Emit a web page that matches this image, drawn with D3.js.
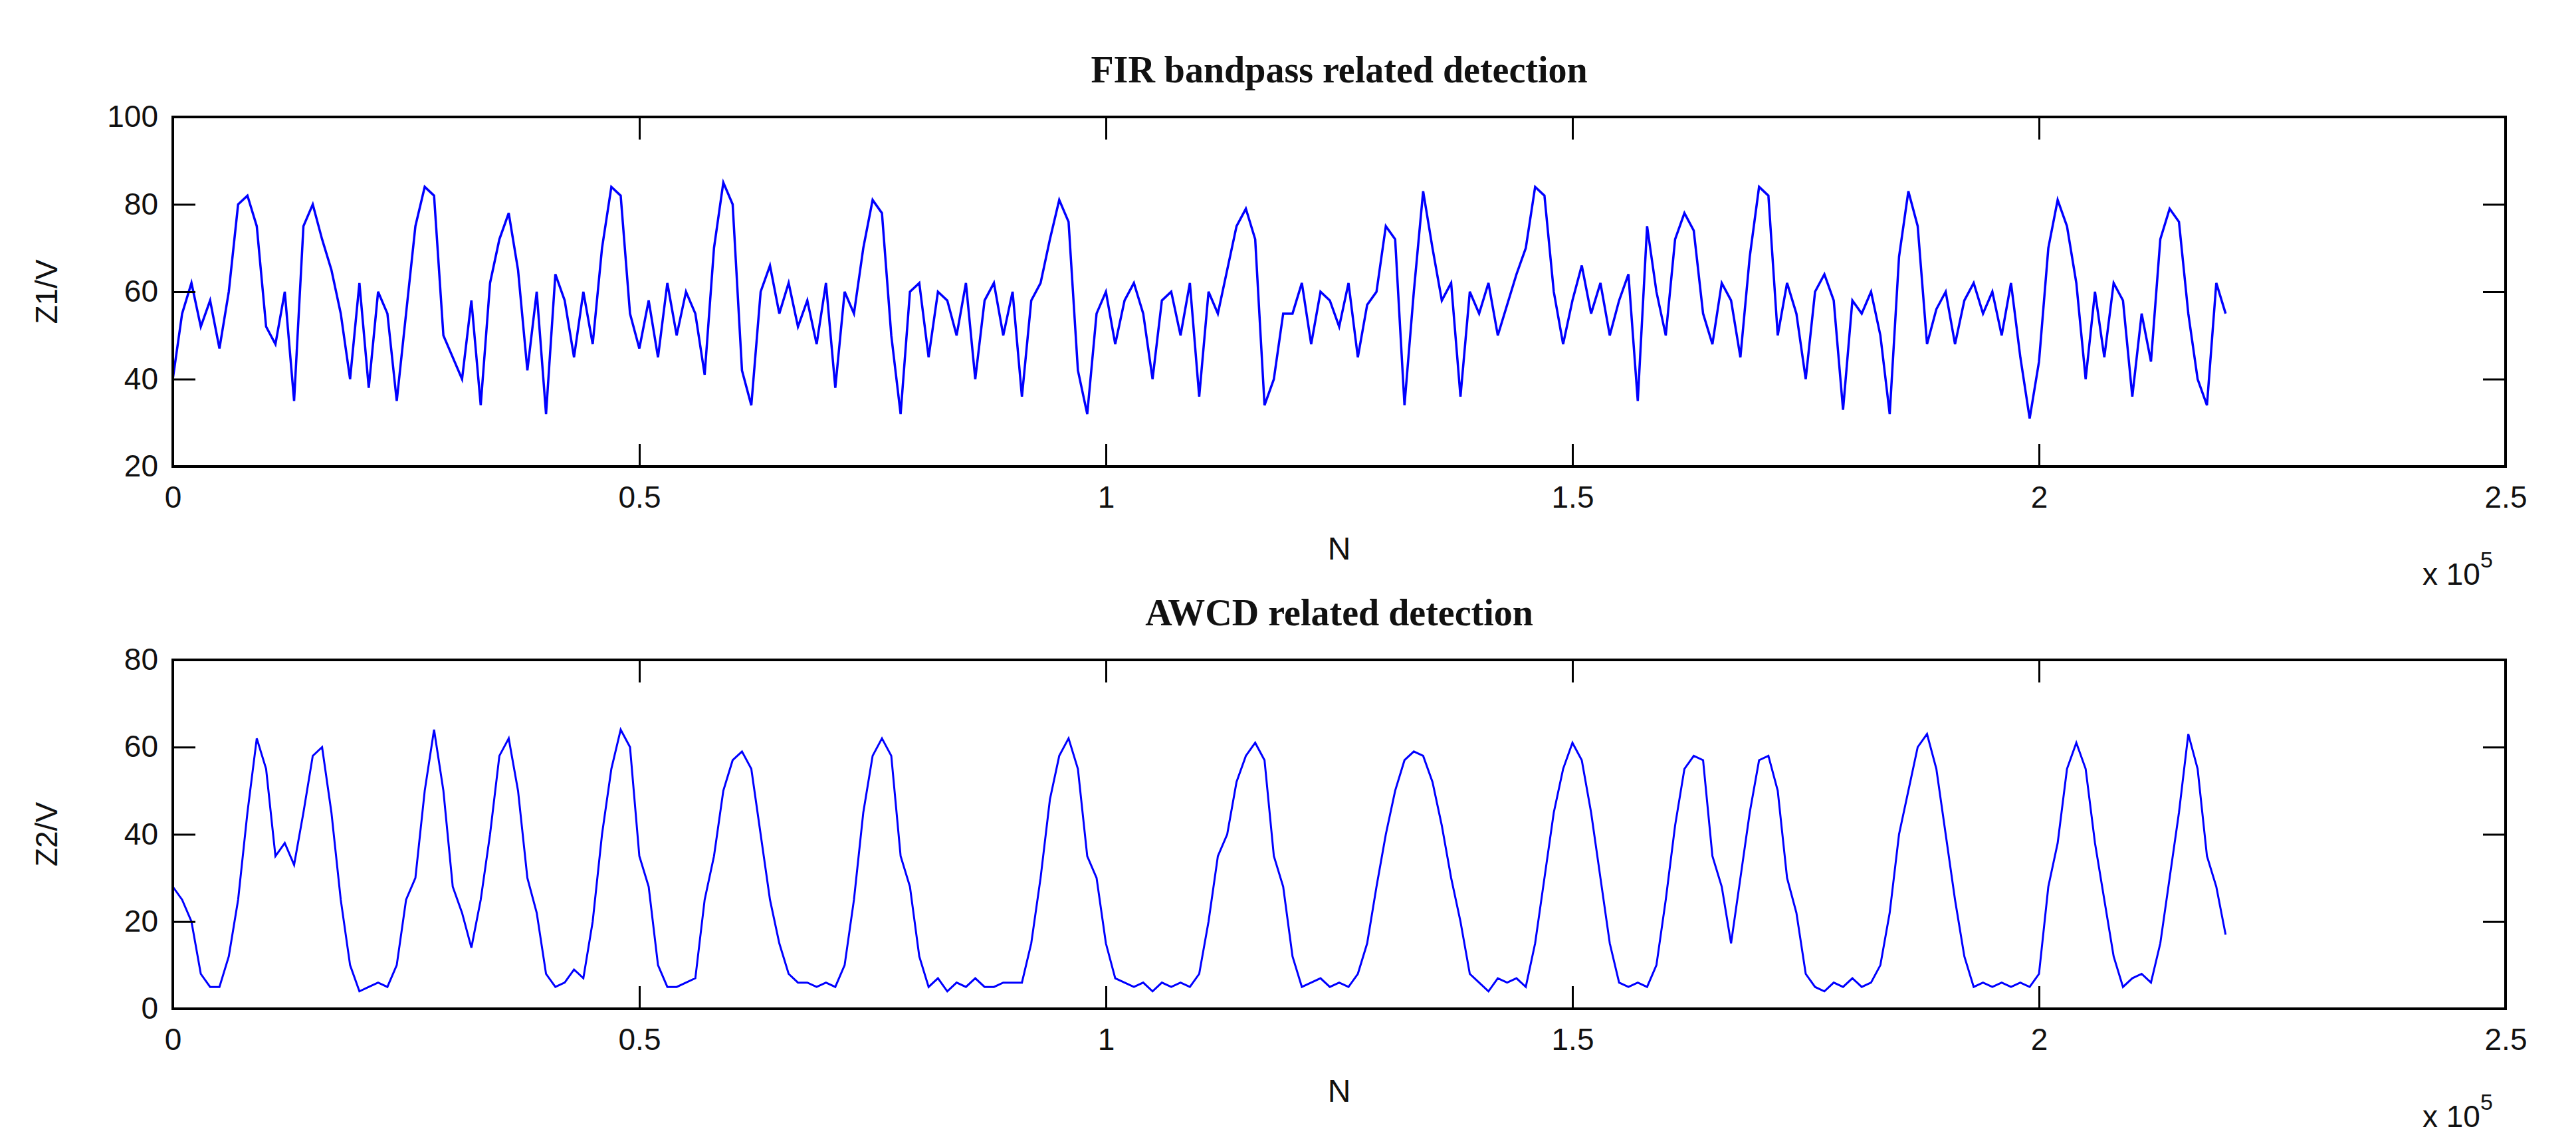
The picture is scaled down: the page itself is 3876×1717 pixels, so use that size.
<!DOCTYPE html>
<html>
<head>
<meta charset="utf-8">
<script src="https://cdn.jsdelivr.net/npm/d3@7"></script>
<style>
  body { margin: 0; background: #fff; }
  text { fill: #111; }
</style>
</head>
<body>
<svg id="chart" width="3876" height="1717"></svg>
<script>
// ---- data (sample step 1000, N = i*1000) ----
const stepN = 1000;
const z1Values = [
  40,55,62,52,58,47,60,80,82,75,
  52,48,60,35,75,80,72,65,55,40,
  62,38,60,55,35,55,75,84,82,50,
  45,40,58,34,62,72,78,65,42,60,
  32,64,58,45,60,48,70,84,82,55,
  47,58,45,62,50,60,55,41,70,85,
  80,42,34,60,66,55,62,52,58,48,
  62,38,60,55,70,81,78,50,32,60,
  62,45,60,58,50,62,40,58,62,50,
  60,36,58,62,72,81,76,42,32,55,
  60,48,58,62,55,40,58,60,50,62,
  36,60,55,65,75,79,72,34,40,55,
  55,62,48,60,58,52,62,45,57,60,
  75,72,34,60,83,70,58,62,36,60,
  55,62,50,57,64,70,84,82,60,48,
  58,66,55,62,50,58,64,35,75,60,
  50,72,78,74,55,48,62,58,45,68,
  84,82,50,62,55,40,60,64,58,33,
  58,55,60,50,32,68,83,75,48,56,
  60,48,58,62,55,60,50,62,45,31,
  44,70,81,75,62,40,60,45,62,58,
  36,55,44,72,79,76,55,40,34,62,55
];
const z2Values = [
  28,25,20,8,5,5,12,25,45,62,
  55,35,38,33,45,58,60,45,25,10,
  4,5,6,5,10,25,30,50,64,50,
  28,22,14,25,40,58,62,50,30,22,
  8,5,6,9,7,20,40,55,64,60,
  35,28,10,5,5,6,7,25,35,50,
  57,59,55,40,25,15,8,6,6,5,
  6,5,10,25,45,58,62,58,35,28,
  12,5,7,4,6,5,7,5,5,6,
  6,6,15,30,48,58,62,55,35,30,
  15,7,6,5,6,4,6,5,6,5,
  8,20,35,40,52,58,61,57,35,28,
  12,5,6,7,5,6,5,8,15,28,
  40,50,57,59,58,52,42,30,20,8,
  6,4,7,6,7,5,15,30,45,55,
  61,57,45,30,15,6,5,6,5,10,
  25,42,55,58,57,35,28,15,30,45,
  57,58,50,30,22,8,5,4,6,5,
  7,5,6,10,22,40,50,60,63,55,
  40,25,12,5,6,5,6,5,6,5,
  8,28,38,55,61,55,38,25,12,5,
  7,8,6,15,30,45,63,55,35,28,17
];
const xTicks = [0, 0.5e5, 1e5, 1.5e5, 2e5, 2.5e5];
const panels = [
  { title: "FIR bandpass related detection", ylabel: "Z1/V", values: z1Values,
    yDomain: [20, 100], yTicks: [20, 40, 60, 80, 100], top: 176, bottom: 702, width: 3.5 },
  { title: "AWCD related detection", ylabel: "Z2/V", values: z2Values,
    yDomain: [0, 80], yTicks: [0, 20, 40, 60, 80], top: 993, bottom: 1518, width: 3 }
];

const svg = d3.select("#chart");
const left = 260, right = 3770;
const tickFont = "'Liberation Sans Narrow', 'Liberation Sans', Arial, sans-serif";

panels.forEach(p => {
  const x = d3.scaleLinear().domain([0, 2.5e5]).range([left, right]);
  const y = d3.scaleLinear().domain(p.yDomain).range([p.bottom, p.top]);
  const g = svg.append("g");

  // Title
  g.append("text")
    .attr("x", (left + right) / 2).attr("y", p.top - 52)
    .attr("text-anchor", "middle")
    .style("font-family", "'Liberation Serif', 'Times New Roman', serif")
    .style("font-weight", "bold").style("font-size", "56px")
    .text(p.title);

  // Line
  const line = d3.line()
    .x((d, i) => x(i * stepN))
    .y(d => y(d));
  g.append("path").datum(p.values)
    .attr("d", line)
    .attr("fill", "none").attr("stroke", "#0000ff")
    .attr("stroke-width", p.width).attr("stroke-linejoin", "miter");

  // Inward ticks on all sides
  const tl = 34;
  g.append("g").attr("transform", `translate(0,${p.bottom})`)
    .call(d3.axisBottom(x).tickValues(xTicks).tickSizeInner(-tl).tickSizeOuter(0).tickFormat(d => d3.format("~g")(d / 1e5)))
    .call(a => a.select(".domain").remove())
    .call(a => a.selectAll("line").attr("stroke", "#000").attr("stroke-width", 3))
    .call(a => a.selectAll("text").attr("dy", 0).attr("y", 62)
      .style("font-family", tickFont).style("font-size", "46px").attr("fill", "#111"));
  g.append("g").attr("transform", `translate(0,${p.top})`)
    .call(d3.axisTop(x).tickValues(xTicks).tickSizeInner(-tl).tickSizeOuter(0).tickFormat(""))
    .call(a => a.select(".domain").remove())
    .call(a => a.selectAll("line").attr("stroke", "#000").attr("stroke-width", 3));
  g.append("g").attr("transform", `translate(${left},0)`)
    .call(d3.axisLeft(y).tickValues(p.yTicks).tickSizeInner(-tl).tickSizeOuter(0))
    .call(a => a.select(".domain").remove())
    .call(a => a.selectAll("line").attr("stroke", "#000").attr("stroke-width", 3))
    .call(a => a.selectAll("text").attr("x", -22)
      .style("font-family", tickFont).style("font-size", "46px").attr("fill", "#111"));
  g.append("g").attr("transform", `translate(${right},0)`)
    .call(d3.axisRight(y).tickValues(p.yTicks).tickSizeInner(-tl).tickSizeOuter(0).tickFormat(""))
    .call(a => a.select(".domain").remove())
    .call(a => a.selectAll("line").attr("stroke", "#000").attr("stroke-width", 3));

  // Box
  g.append("rect")
    .attr("x", left).attr("y", p.top)
    .attr("width", right - left).attr("height", p.bottom - p.top)
    .attr("fill", "none").attr("stroke", "#000").attr("stroke-width", 4);

  // Axis labels
  g.append("text")
    .attr("x", (left + right) / 2).attr("y", p.bottom + 140)
    .attr("text-anchor", "middle")
    .style("font-family", tickFont).style("font-size", "48px")
    .text("N");
  g.append("text")
    .attr("transform", `translate(86,${(p.top + p.bottom) / 2}) rotate(-90)`)
    .attr("text-anchor", "middle")
    .style("font-family", tickFont).style("font-size", "46px")
    .text(p.ylabel);
  const ex = g.append("text")
    .attr("x", 3645).attr("y", p.bottom + 178)
    .style("font-family", tickFont).style("font-size", "46px");
  ex.append("tspan").text("x 10");
  ex.append("tspan").attr("dy", -26).style("font-size", "34px").text("5");
});
</script>
</body>
</html>
